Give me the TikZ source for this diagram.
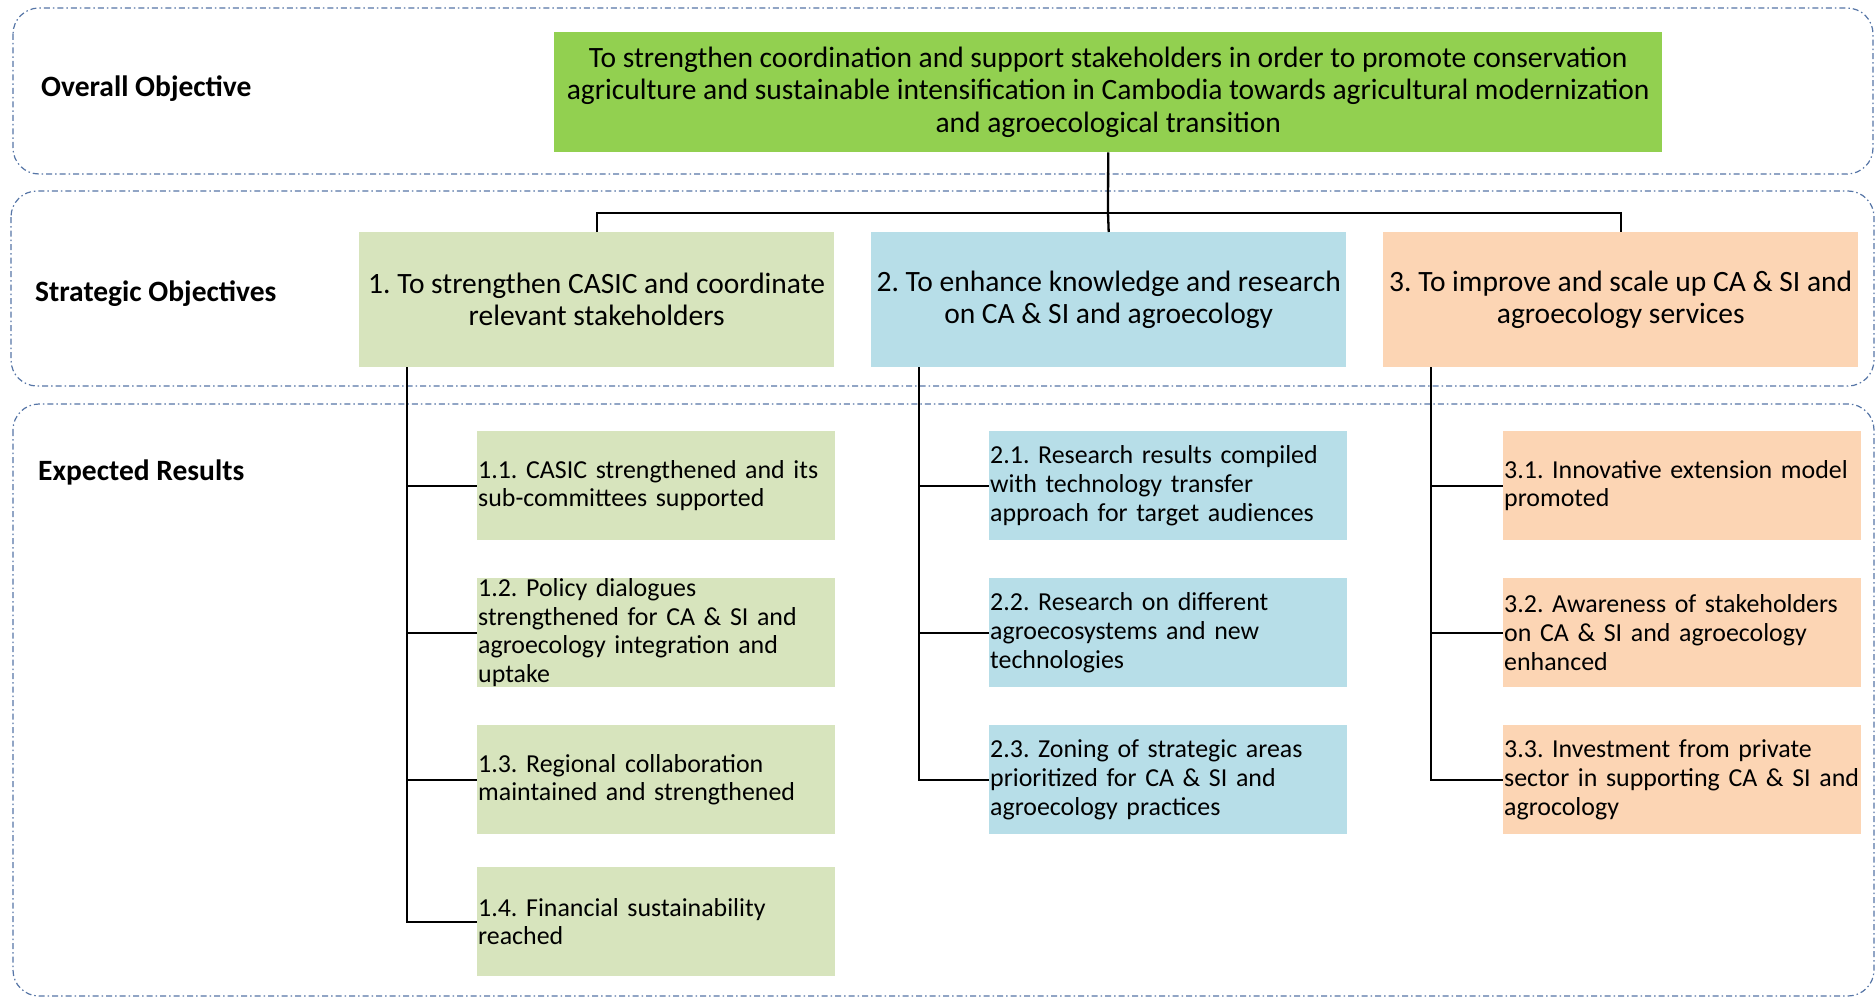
\documentclass[tikz,border=0pt]{standalone}
\usepackage{fontspec}
\setmainfont{Carlito}
\frenchspacing
\definecolor{topgreen}{HTML}{92D050}
\definecolor{olivelt}{HTML}{D7E4BD}
\definecolor{aqualt}{HTML}{B7DEE8}
\definecolor{peachlt}{HTML}{FCD5B4}
\definecolor{bandblue}{HTML}{5675A6}
\tikzset{
  band/.style={draw=bandblue, line width=1.2pt, rounded corners=26pt,
    dash pattern=on 6pt off 3pt on 1.5pt off 3pt},
  bandlabel/.style={anchor=west, inner sep=0pt, font=\fontsize{29.5}{32}\selectfont\bfseries},
  topbox/.style={anchor=north west, fill=topgreen, minimum width=1108pt, minimum height=120pt,
    align=center, inner sep=0pt, font=\fontsize{29.5}{32.3}\selectfont},
  stratbox/.style={anchor=north west, minimum width=475pt, minimum height=135pt,
    align=center, inner sep=0pt, font=\fontsize{29.5}{32.3}\selectfont},
  resbox/.style={anchor=north west, minimum height=109pt, text width=356pt,
    inner xsep=1pt, inner ysep=0pt, align=left, font=\fontsize{25.9}{28.7}\selectfont},
  link/.style={draw=black, line width=2.3pt},
}
\begin{document}
\begin{tikzpicture}[x=1pt, y=-1pt]
\useasboundingbox (0,0) rectangle (1876,1006);
% bands
\draw[band] (13,8) rectangle (1873,174);
\draw[band] (11,191) rectangle (1874,386);
\draw[band] (13,404) rectangle (1874,996);
\node[bandlabel] (lab1) at (41,89) {Overall Objective};
\node[bandlabel] (lab2) at (35,294) {Strategic Objectives};
\node[bandlabel] (lab3) at (38,472) {Expected Results};
% top
\node[topbox] (top) at (554,32) {To strengthen coordination and support stakeholders in order to promote conservation\\agriculture and sustainable intensification in Cambodia towards agricultural modernization\\and agroecological transition};
% strategic
\node[stratbox, fill=olivelt] (s1) at (359,232) {1. To strengthen CASIC and coordinate\\relevant stakeholders};
\node[stratbox, fill=aqualt] (s2) at (871,232) {2. To enhance knowledge and research\\on CA \& SI and agroecology};
\node[stratbox, fill=peachlt] (s3) at (1383,232) {3. To improve and scale up CA \& SI and\\agroecology services};
% results column 1
\node[resbox, fill=olivelt] (r11) at (477,431) {1.1. CASIC strengthened and its\\sub-committees supported};
\node[resbox, fill=olivelt] (r12) at (477,578) {1.2. Policy dialogues\\strengthened for CA \& SI and\\agroecology integration and\\uptake};
\node[resbox, fill=olivelt] (r13) at (477,725) {1.3. Regional collaboration\\maintained and strengthened};
\node[resbox, fill=olivelt] (r14) at (477,867) {1.4. Financial sustainability\\reached};
% results column 2
\node[resbox, fill=aqualt] (r21) at (989,431) {2.1. Research results compiled\\with technology transfer\\approach for target audiences};
\node[resbox, fill=aqualt] (r22) at (989,578) {2.2. Research on different\\agroecosystems and new\\technologies};
\node[resbox, fill=aqualt] (r23) at (989,725) {2.3. Zoning of strategic areas\\prioritized for CA \& SI and\\agroecology practices};
% results column 3
\node[resbox, fill=peachlt] (r31) at (1503,431) {3.1. Innovative extension model\\promoted};
\node[resbox, fill=peachlt] (r32) at (1503,578) {3.2. Awareness of stakeholders\\on CA \& SI and agroecology\\enhanced};
\node[resbox, fill=peachlt] (r33) at (1503,725) {3.3. Investment from private\\sector in supporting CA \& SI and\\agrocology};
% connectors top -> strategic
\coordinate (bus) at (1108,213);
\draw[link] (top.south) -- (bus);
\draw[link] (s1.north) |- (bus) -| (s3.north);
\draw[link] (bus) -- (s2.north);
% trunks
\coordinate (t1) at ([xshift=48pt]s1.south west);
\coordinate (t2) at ([xshift=48pt]s2.south west);
\coordinate (t3) at ([xshift=48pt]s3.south west);
\foreach \r in {r11,r12,r13,r14} { \draw[link] (t1) |- (\r.west); }
\foreach \r in {r21,r22,r23} { \draw[link] (t2) |- (\r.west); }
\foreach \r in {r31,r32,r33} { \draw[link] (t3) |- (\r.west); }
\end{tikzpicture}
\end{document}
